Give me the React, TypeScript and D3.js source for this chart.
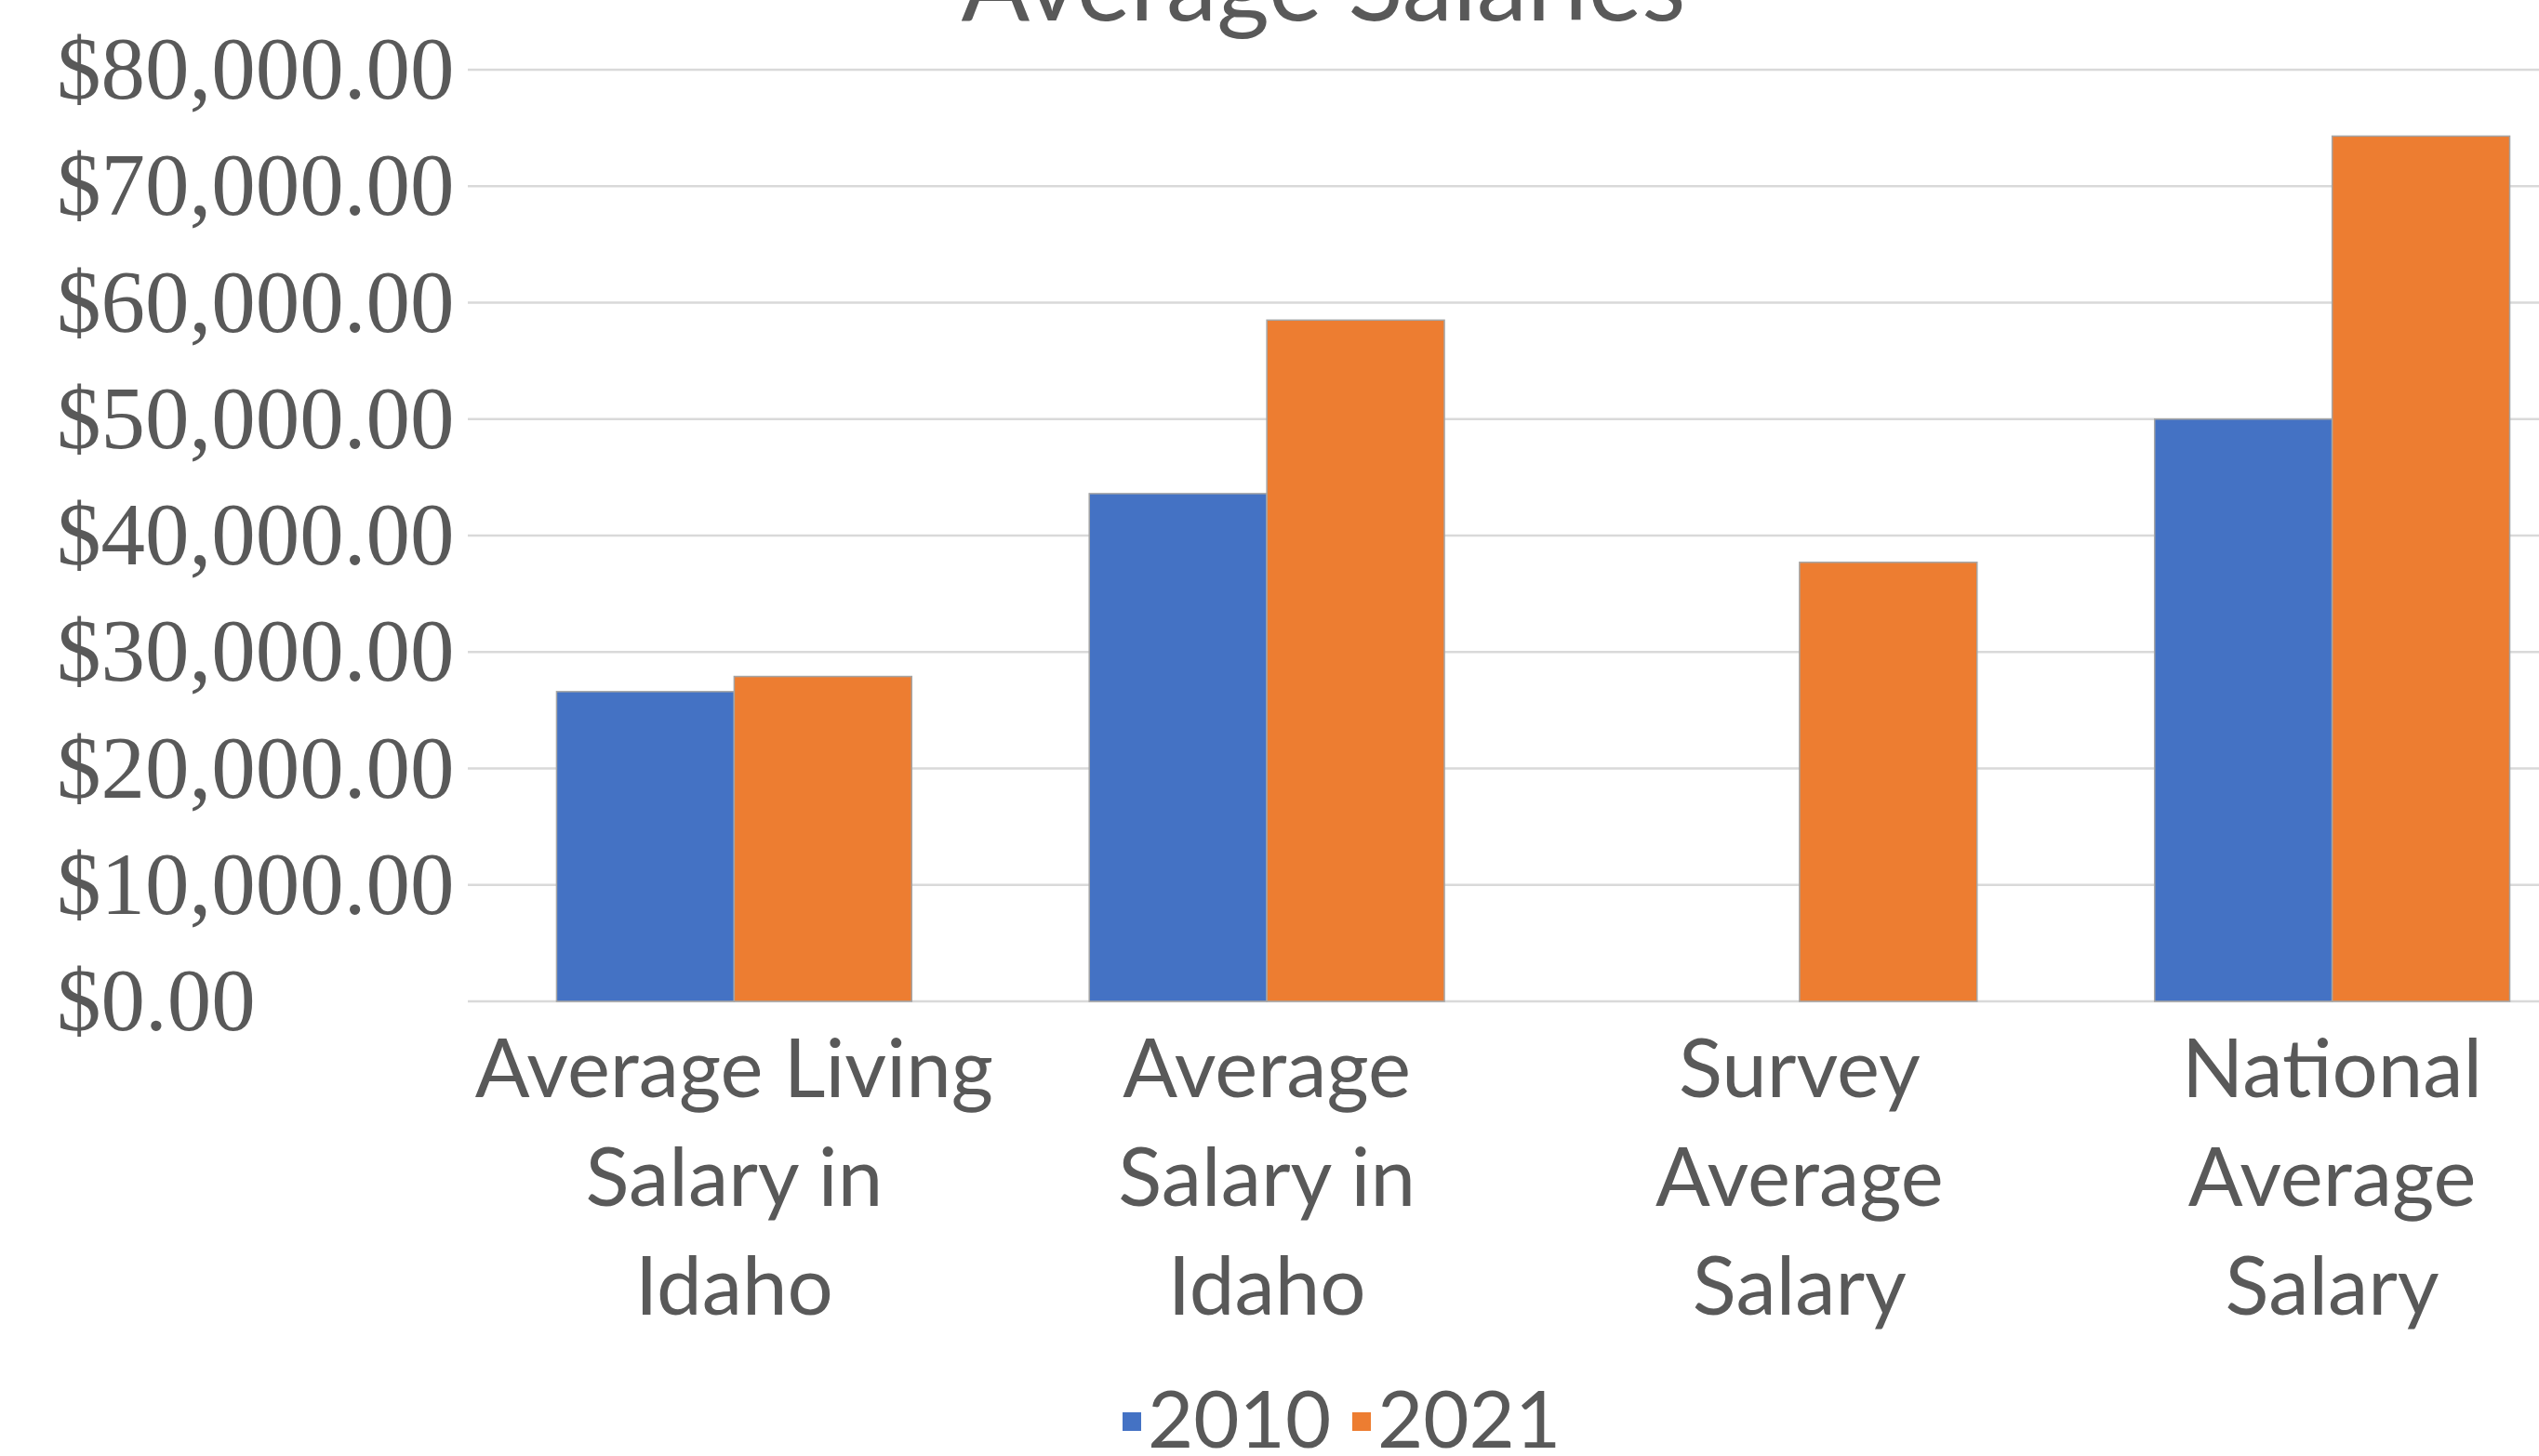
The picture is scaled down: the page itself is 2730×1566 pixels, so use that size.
import { useRef, useEffect } from 'react'
import * as d3 from 'd3'

const categories = [
  ['Average Living', 'Salary in', 'Idaho'],
  ['Average', 'Salary in', 'Idaho'],
  ['Survey', 'Average', 'Salary'],
  ['National', 'Average', 'Salary'],
]
const seriesNames = ['2010', '2021']
const values2010: (number | null)[] = [26600, 43600, null, 50000]
const values2021: (number | null)[] = [27900, 58500, 37700, 74300]
const yTicks = [0, 10000, 20000, 30000, 40000, 50000, 60000, 70000, 80000]
const title = 'Average Salaries'

const W = 2730
const H = 1566
const PLOT = { left: 503, right: 2794, top: 75, bottom: 1077 }
const COLORS = ['#4472C4', '#ED7D31']
const TEXT = '#595959'
const GRID = '#D9D9D9'
const SANS = "Lato, 'Open Sans', sans-serif"
const SERIF = "'Liberation Serif', 'Times New Roman', serif"

export default function App() {
  const svgRef = useRef<SVGSVGElement>(null)

  useEffect(() => {
    const svg = svgRef.current
    if (!svg) return
    const sel = d3.select(svg)
    sel.selectAll('*').remove()

    const keys = categories.map((c) => c.join(' '))
    const x = d3.scaleBand().domain(keys).range([PLOT.left, PLOT.right]).padding(0)
    const xs = d3.scaleBand().domain(seriesNames).range([0, x.bandwidth()]).paddingInner(0).paddingOuter(0.5)
    const y = d3.scaleLinear().domain([0, 80000]).range([PLOT.bottom, PLOT.top])

    // gridlines
    sel.append('g')
      .selectAll('line')
      .data(yTicks)
      .join('line')
      .attr('x1', PLOT.left)
      .attr('x2', W)
      .attr('y1', (d) => y(d))
      .attr('y2', (d) => y(d))
      .attr('stroke', GRID)
      .attr('stroke-width', 2.5)

    // y labels, left aligned like the source
    const fmt = d3.format('$,.2f')
    sel.append('g')
      .selectAll('text')
      .data(yTicks)
      .join('text')
      .attr('x', 61)
      .attr('y', (d) => y(d) + 31)
      .attr('font-family', SERIF)
      .attr('font-size', 95)
      .attr('fill', TEXT)
      .text((d) => fmt(d))

    // bars
    const series = [values2010, values2021]
    const barsG = sel.append('g')
    series.forEach((vals, si) => {
      barsG.append('g')
        .selectAll('rect')
        .data(vals.map((v, i) => ({ v, k: keys[i] })).filter((d) => d.v != null))
        .join('rect')
        .attr('x', (d) => x(d.k)! + xs(seriesNames[si])!)
        .attr('width', xs.bandwidth())
        .attr('y', (d) => y(d.v as number))
        .attr('height', (d) => y(0) - y(d.v as number))
        .attr('fill', COLORS[si])
        .attr('stroke', '#A5A5A5')
        .attr('stroke-width', 1.5)
    })

    // category labels
    const catG = sel.append('g')
    categories.forEach((lines, i) => {
      const cx = x(keys[i])! + x.bandwidth() / 2
      const t = catG.append('text')
        .attr('x', cx)
        .attr('y', 1180)
        .attr('text-anchor', 'middle')
        .attr('font-family', SANS)
        .attr('font-size', 87)
        .attr('fill', TEXT)
      lines.forEach((ln, j) => {
        t.append('tspan').attr('x', cx).attr('dy', j === 0 ? 0 : 117).text(ln)
      })
    })

    // title (cut off at top in source)
    sel.append('text')
      .attr('x', 1423)
      .attr('y', 22)
      .attr('text-anchor', 'middle')
      .attr('font-family', SANS)
      .attr('font-size', 109)
      .attr('fill', TEXT)
      .text(title)

    // legend
    const legend = sel.append('g')
    const legX = [1207, 1454]
    seriesNames.forEach((name, i) => {
      legend.append('rect')
        .attr('x', legX[i])
        .attr('y', 1519)
        .attr('width', 20)
        .attr('height', 20)
        .attr('fill', COLORS[i])
      legend.append('text')
        .attr('x', legX[i] + 27)
        .attr('y', 1557)
        .attr('font-family', SANS)
        .attr('font-size', 85)
        .attr('fill', TEXT)
        .text(name)
    })
  }, [])

  return (
    <svg
      ref={svgRef}
      width={W}
      height={H}
      style={{ position: 'absolute', left: 0, top: 0, background: '#fff' }}
    />
  )
}
